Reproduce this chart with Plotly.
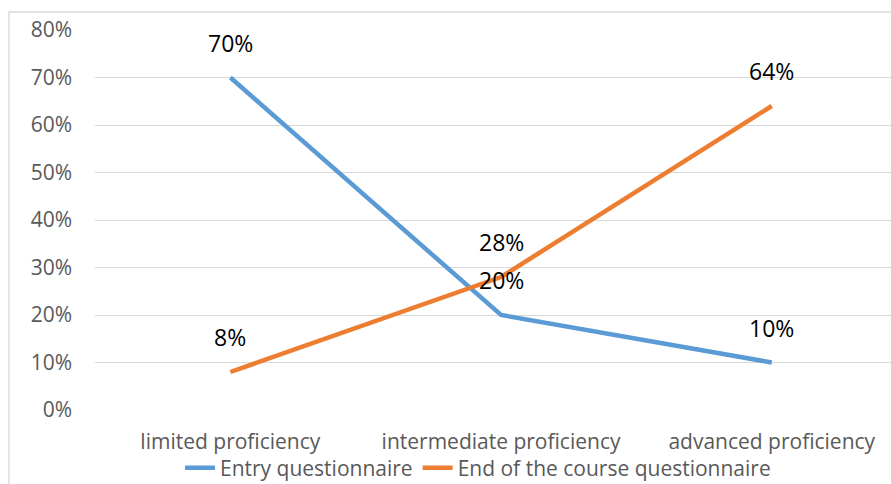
import plotly.graph_objects as go

categories = ["limited proficiency", "intermediate proficiency", "advanced proficiency"]
entry = [0.70, 0.20, 0.10]
end_course = [0.08, 0.28, 0.64]
series_names = ["Entry questionnaire", "End of the course questionnaire"]
colors = ["#5B9BD5", "#ED7D31"]
ytick_vals = [0, 0.1, 0.2, 0.3, 0.4, 0.5, 0.6, 0.7, 0.8]

FONT = "'Open Sans', sans-serif"

fig = go.Figure()
for name, vals, col in zip(series_names, [entry, end_course], colors):
    fig.add_trace(go.Scatter(
        x=list(range(len(categories))), y=vals, mode="lines", name=name,
        line=dict(color=col, width=4.5),
    ))
    for i, v in enumerate(vals):
        fig.add_annotation(x=i, y=v, text=f"{round(v*100)}%", showarrow=False,
                           yshift=35, font=dict(family=FONT, size=23, color="#000000"))

W, H = 891, 484
L, T, B = 95, 30, 74
plot_w = W - L
plot_h = H - T - B

fig.update_layout(
    width=W, height=H,
    margin=dict(l=L, r=0, t=T, b=B, pad=0, autoexpand=False),
    paper_bgcolor="white", plot_bgcolor="white",
    font=dict(family=FONT, size=21, color="#595959"),
    showlegend=True,
    legend=dict(orientation="h", x=(478 - L) / plot_w, xanchor="center",
                y=(T + plot_h - 468) / plot_h, yanchor="middle",
                font=dict(family=FONT, size=21, color="#595959"),
                tracegroupgap=0, bgcolor="rgba(0,0,0,0)"),
    xaxis=dict(
        range=[-0.5, -0.5 + plot_w / 270.7], tickmode="array",
        tickvals=list(range(len(categories))), ticktext=categories,
        showgrid=False, zeroline=False, showline=False, ticks="",
        ticklabelstandoff=17, fixedrange=True,
    ),
    yaxis=dict(
        range=[0, 0.8], tickmode="array", tickvals=ytick_vals,
        ticktext=[f"{round(v*100)}%" for v in ytick_vals],
        showgrid=True, gridcolor="#D9D9D9", gridwidth=1.3,
        zeroline=False, showline=False, ticks="", ticklabelstandoff=22,
    ),
)

# outer chart border (partially visible)
fig.add_shape(type="rect", xref="paper", yref="paper",
              x0=(9 - L) / plot_w, x1=(W + 20 - L) / plot_w,
              y0=(T + plot_h - (H + 20)) / plot_h, y1=(T + plot_h - 12) / plot_h,
              line=dict(color="#D9D9D9", width=1.3), layer="below")

fig.write_html("out.html")
